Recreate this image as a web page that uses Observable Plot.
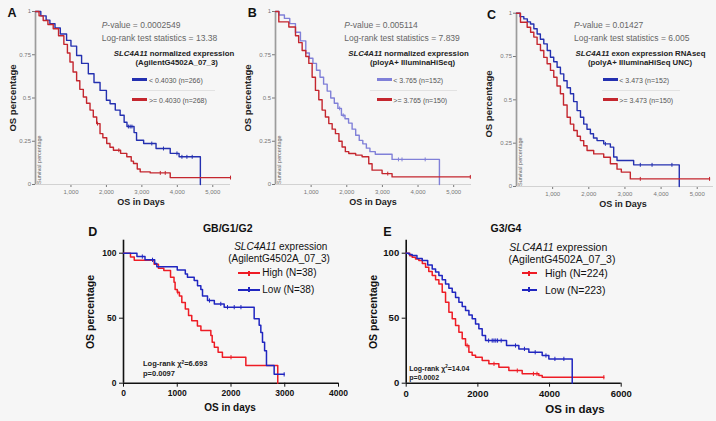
<!DOCTYPE html>
<html><head><meta charset="utf-8">
<script src="https://cdn.jsdelivr.net/npm/d3@7"></script>
<script src="https://cdn.jsdelivr.net/npm/@observablehq/plot@0.6"></script>
<style>
body{margin:0;background:#f6f6f6;}
#fig{position:relative;width:716px;height:421px;background:#f6f6f6;font-family:"Liberation Sans",Arial,sans-serif;overflow:hidden;}
#fig svg{position:absolute;left:0;top:0;}
.t{position:absolute;white-space:nowrap;line-height:1;}
.t sup{font-size:0.65em;line-height:0;vertical-align:0.55em;}
.sw{position:absolute;}
</style></head><body><div id="fig"></div>
<script>
// ---------------- DATA ----------------
const xTicksTop = [1000, 2000, 3000, 4000, 5000];
const yTicksTop = [0, 0.25, 0.5, 0.75, 1];
const xTicksD = [0, 1000, 2000, 3000, 4000];
const xTicksE = [0, 2000, 4000, 6000];
const yTicksBottom = [0, 50, 100];

// Panel A (AgilentG4502A_07_3)
const aLowDays  = [0,150,300,406,550,700,877,1000,1160,1300,1490,1650,1821,2000,2104,2250,2387,2500,2580,2780,2850,3050,3400,3800,4050,4650];
const aLowSurv  = [1,0.975,0.95,0.929,0.905,0.87,0.833,0.8,0.746,0.70,0.64,0.59,0.544,0.487,0.467,0.43,0.40,0.36,0.335,0.30,0.256,0.237,0.208,0.18,0.16,0];
const aLowCens  = [2620,2670,2720,3280,3610,3990,4130,4270,4420];
const aHighDays = [0,100,217,350,500,650,800,900,972,1060,1160,1250,1349,1440,1538,1630,1726,1820,1900,2009,2100,2198,2400,2575,2700,2764,2870,2953,3236,3800,5500];
const aHighSurv = [1,0.975,0.948,0.925,0.90,0.86,0.81,0.76,0.708,0.65,0.60,0.55,0.506,0.47,0.43,0.39,0.352,0.294,0.27,0.237,0.215,0.198,0.18,0.16,0.135,0.121,0.09,0.073,0.067,0.04,0.04];
const aHighCens = [1750,2350,3520,3660,5500];

// Panel B (polyA+ IlluminaHiSeq)
const bLowDays  = [0,100,250,400,560,700,850,950,1050,1150,1250,1350,1450,1550,1650,1750,1850,1950,2050,2150,2250,2350,2450,2550,2650,2800,3271,4600];
const bLowSurv  = [1,0.98,0.96,0.93,0.88,0.83,0.76,0.73,0.70,0.66,0.62,0.58,0.54,0.50,0.47,0.44,0.40,0.38,0.355,0.32,0.285,0.255,0.235,0.21,0.19,0.175,0.145,0];
const bLowCens  = [1800,1900,3450,3550,4200];
const bHighDays = [0,93,374,561,650,748,850,935,1028,1121,1215,1308,1400,1495,1590,1682,1780,1869,1960,2056,2250,2430,2617,2710,2991,3271,5467];
const bHighSurv = [1,0.94,0.91,0.86,0.82,0.775,0.74,0.70,0.62,0.544,0.49,0.43,0.39,0.352,0.32,0.294,0.25,0.217,0.19,0.179,0.17,0.16,0.12,0.083,0.063,0.044,0.044];
const bHighCens = [3150,5467];

// Panel C (exon expression RNAseq)
const cLowDays  = [0,100,203,300,387,480,571,660,755,850,939,1030,1123,1215,1308,1400,1492,1580,1676,1770,1860,1950,2044,2130,2228,2413,2597,2689,2781,3241,4503];
const cLowSurv  = [1,0.98,0.967,0.95,0.938,0.91,0.88,0.85,0.823,0.785,0.746,0.72,0.688,0.65,0.61,0.57,0.535,0.49,0.438,0.40,0.36,0.33,0.304,0.28,0.265,0.246,0.227,0.17,0.15,0.125,0];
const cLowCens  = [2460,3425,3750,4300];
const cHighDays = [0,110,295,390,479,570,663,755,847,940,1031,1120,1215,1300,1400,1490,1584,1680,1768,1860,1952,2136,2413,2597,2781,2900,3149,5341];
const cHighSurv = [1,0.948,0.919,0.89,0.862,0.82,0.785,0.745,0.708,0.67,0.63,0.58,0.535,0.47,0.40,0.36,0.323,0.29,0.265,0.235,0.208,0.188,0.169,0.131,0.10,0.083,0.044,0.044];
const cHighCens = [3425,5341];

// Panel D (GB/G1/G2), percent
const dHighDays = [0,130,200,570,650,750,875,940,960,1000,1040,1085,1150,1210,1270,1375,1440,1625,1650,1690,1760,1840,2276,2870];
const dHighSurv = [100,97,94.5,91.5,88.5,86.7,81.5,77.7,72,70,67,62,57,52,48,44,40.5,36.7,31.5,27.7,23.8,20,13.6,0];
const dHighCens = [1010,2000];
const dLowDays  = [0,250,400,580,620,1000,1150,1190,1315,1377,1439,1470,1563,1690,1873,2431,2524,2555,2586,2625,2660,2803,2989];
const dLowSurv  = [100,97.4,94.9,92,89.5,87,84,81.5,79,75,72,67,63.6,61,58.5,49.5,44.5,39,31.5,25,13.6,6.8,6.8];
const dLowCens  = [350,540,1600,1810,1935,2060,2185,2989];

// Panel E (G3/G4), percent
const eHighDays = [0,100,167,260,353,450,540,630,726,820,912,1005,1098,1191,1284,1377,1470,1563,1656,1749,1840,1935,2121,2307,2586,2865,3237,3702,3795,5516];
const eHighSurv = [100,98,96.9,95.5,94.4,92,89.2,86,82.8,79.5,76.4,70,62.3,54.6,49.5,44.4,39.2,34.1,29,23.8,21.5,20,17.4,14.9,12.3,9.7,7.2,5.9,4.6,4.6];
const eHighCens = [1700,2450,3100,3550,3650,5516];
const eLowDays  = [0,80,167,300,447,600,726,820,912,1005,1098,1191,1284,1377,1470,1563,1656,1750,1842,1935,2028,2121,2214,2800,3144,3423,3795,3981,4633];
const eLowSurv  = [100,99,98.2,96,94.4,91,87.9,85.5,82.8,79.5,76.4,73,70,66,62.3,59,55.9,52.5,49.5,45.5,41.8,36.7,32.8,29,26.4,23.8,21.3,18.7,0];
const eLowCens  = [2300,2400,2450,2500,2550,2650,3050,3300,3600,3900,4150,4400];

// ---------------- HELPERS ----------------
const fig = document.getElementById("fig");
const FONT = "'Liberation Sans', Arial, sans-serif";
const rows = (T, S) => T.map((t, i) => ({t, s: S[i]}));
function survAt(T, S, t) { let s = S[0]; for (let i = 0; i < T.length; i++) if (T[i] <= t) s = S[i]; return s; }
const censRows = (T, S, C) => C.map(t => ({t, s: survAt(T, S, t)}));
const vbar = {draw(ctx, size) { const r = Math.sqrt(size) / 2; ctx.moveTo(0, -r); ctx.lineTo(0, r); }};
const comma = d3.format(",");

function curveMarks(series, width, tickR) {
  const m = [];
  for (const s of series) {
    m.push(Plot.line(rows(s.T, s.S), {x: "t", y: "s", curve: "step-after", stroke: s.color, strokeWidth: width}));
    m.push(Plot.dot(censRows(s.T, s.S, s.C), {x: "t", y: "s", symbol: vbar, r: tickR, stroke: s.color, strokeWidth: 1, fill: "none"}));
  }
  return m;
}

function topPanel({L, R, T, B, xmax, series}) {
  return Plot.plot({
    width: 716, height: 421,
    marginLeft: L, marginRight: 716 - R, marginTop: T, marginBottom: 421 - B,
    style: {background: "transparent", fontFamily: FONT, fontSize: "6px", color: "#777", overflow: "visible"},
    x: {domain: [0, xmax], ticks: xTicksTop, tickFormat: d => comma(d), tickSize: 3, tickPadding: 2, label: null},
    y: {domain: [0, 1], ticks: yTicksTop, tickFormat: d => String(d), tickSize: 3, tickPadding: 1.5, label: null},
    marks: [
      Plot.ruleY([0], {stroke: "#d2d2d2", strokeWidth: 1}),
      Plot.ruleX([0], {stroke: "#9c9c9c", strokeWidth: 1.7}),
      ...curveMarks(series, 1.4, 2.2)
    ]
  });
}

function bottomPanel({L, R, xmax, xticks, xfs, series}) {
  return Plot.plot({
    width: 716, height: 421,
    marginLeft: L, marginRight: 716 - R, marginTop: 239.7, marginBottom: 421 - 382.7,
    style: {background: "transparent", fontFamily: FONT, fontSize: xfs + "px", fontWeight: "bold", color: "#111", overflow: "visible"},
    x: {domain: [0, xmax], ticks: xticks, tickFormat: d => String(d), tickSize: 4, tickPadding: 3, label: null},
    y: {domain: [0, 110], ticks: yTicksBottom, tickFormat: d => String(d), tickSize: 4, tickPadding: 3, label: null},
    marks: [
      Plot.ruleY([0], {stroke: "#111", strokeWidth: 1.6}),
      Plot.ruleX([0], {stroke: "#111", strokeWidth: 1.6}),
      ...curveMarks(series, 1.5, 2.4)
    ]
  });
}

function txt(html, x, y, o = {}) {
  const d = document.createElement("div");
  d.className = "t";
  d.innerHTML = html;
  d.style.left = x + "px";
  d.style.top = y + "px";
  d.style.fontSize = (o.size || 8) + "px";
  d.style.fontWeight = o.weight || "normal";
  d.style.color = o.color || "#222";
  const a = o.anchor || "start";
  const tx = a === "middle" ? "-50%" : a === "end" ? "-100%" : "0";
  if (o.rotate === "center") d.style.transform = "translate(-50%,-50%) rotate(-90deg)";
  else if (o.rotate === "base") { d.style.transformOrigin = "0 0"; d.style.transform = "rotate(-90deg)"; }
  else d.style.transform = `translate(${tx},-50%)`;
  fig.appendChild(d);
}
function box(x, y, w, h, color) {
  const d = document.createElement("div");
  d.className = "sw";
  d.style.cssText = `left:${x}px;top:${y}px;width:${w}px;height:${h}px;background-color:${color};`;
  fig.appendChild(d);
}
function swatch(x1, x2, y, h, color, tick) {
  box(x1, y - h / 2, x2 - x1, h, color);
  if (tick) box((x1 + x2) / 2 - 0.75, y - 2.5, 1.5, 5, color);
}

// ---------------- COLORS ----------------
const topBlue = "#2430b0", topRed = "#c4262e", bBlue = "#8080d8";
const botRed = "#ee1c25", botBlue = "#2026c0";

// ---------------- PLOTS ----------------
fig.appendChild(topPanel({L: 35, R: 230, T: 11, B: 184, xmax: 5500, series: [
  {T: aLowDays, S: aLowSurv, C: aLowCens, color: topBlue},
  {T: aHighDays, S: aHighSurv, C: aHighCens, color: topRed}]}));
fig.appendChild(topPanel({L: 275, R: 471, T: 11, B: 184, xmax: 5500, series: [
  {T: bLowDays, S: bLowSurv, C: bLowCens, color: bBlue},
  {T: bHighDays, S: bHighSurv, C: bHighCens, color: topRed}]}));
fig.appendChild(topPanel({L: 516, R: 713, T: 12.7, B: 186, xmax: 5450, series: [
  {T: cLowDays, S: cLowSurv, C: cLowCens, color: topBlue},
  {T: cHighDays, S: cHighSurv, C: cHighCens, color: topRed}]}));
fig.appendChild(bottomPanel({L: 123, R: 338, xmax: 4000, xticks: xTicksD, xfs: 8.5, series: [
  {T: dHighDays, S: dHighSurv, C: dHighCens, color: botRed},
  {T: dLowDays, S: dLowSurv, C: dLowCens, color: botBlue}]}));
fig.appendChild(bottomPanel({L: 405.7, R: 620.7, xmax: 6000, xticks: xTicksE, xfs: 9.5, series: [
  {T: eHighDays, S: eHighSurv, C: eHighCens, color: botRed},
  {T: eLowDays, S: eLowSurv, C: eLowCens, color: botBlue}]}));

// ---------------- TEXT: top row ----------------
const tops = [
  {letter: "A", lx: 12, ly: 13, ylx: 13, yly: 98, xlx: 141, xly: 202, surv: 38,
   px: 101.7, p: "0.0002549", lr: "13.38",
   h1: "<i>SLC4A11</i> normalized expression", h2: "(AgilentG4502A_07_3)", hc: 174, h2c: 176.7,
   sx1: 131.7, sx2: 146.7, tx: 149, sepx: [130, 215],
   lo: "&lt; 0.4030 (n=266)", hi: "&gt;= 0.4030 (n=268)", blue: topBlue},
  {letter: "B", lx: 252.3, ly: 13, ylx: 248.3, yly: 98, xlx: 373, xly: 202, surv: 278,
   px: 344.3, p: "0.005114", lr: "7.839",
   h1: "<i>SLC4A11</i> normalized expression", h2: "(ployA+ IlluminaHiSeq)", hc: 408.5, h2c: 412.5,
   sx1: 376.7, sx2: 391.7, tx: 393.3, sepx: [370, 457],
   lo: "&lt; 3.765 (n=152)", hi: "&gt;= 3.765 (n=150)", blue: bBlue},
  {letter: "C", lx: 491.5, ly: 14.5, ylx: 489.3, yly: 104, xlx: 623, xly: 204.3, surv: 519,
   px: 574, p: "0.01427", lr: "6.005",
   h1: "<i>SLC4A11</i> exon expression RNAseq", h2: "(polyA+ IlluminaHiSeq UNC)", hc: 640.5, h2c: 640,
   sx1: 603.3, sx2: 618, tx: 619.3, sepx: [602, 680],
   lo: "&lt; 3.473 (n=152)", hi: "&gt;= 3.473 (n=150)", blue: topBlue}
];
for (const p of tops) {
  txt(p.letter, p.lx, p.ly, {size: 12.5, weight: "bold", color: "#111", anchor: "middle"});
  txt("OS percentage", p.ylx, p.yly, {size: 9.5, weight: "bold", color: "#222", rotate: "center"});
  txt("OS in Days", p.xlx, p.xly, {size: 9, weight: "bold", color: "#222", anchor: "middle"});
  txt("Survival percentage", p.surv - 1, p.letter === "C" ? 186 : 184, {size: 5.5, color: "#666", rotate: "base"});
  txt(`<i>P</i>-value = ${p.p}`, p.px, 25, {size: 8.5, color: "#666"});
  txt(`Log-rank test statistics = ${p.lr}`, p.px, 37.7, {size: 8.5, color: "#666"});
  txt(p.h1, p.hc, 54.3, {size: 7.8, weight: "bold", color: "#222", anchor: "middle"});
  txt(p.h2, p.h2c, 62.7, {size: 7.8, weight: "bold", color: "#222", anchor: "middle"});
  swatch(p.sx1, p.sx2, 79.5, 3, p.blue);
  swatch(p.sx1, p.sx2, 99.5, 3, topRed);
  box(p.sepx[0], 89.5, p.sepx[1] - p.sepx[0], 1, "#e2e2e2");
  txt(p.lo, p.tx, 79.5, {size: 7, color: "#555"});
  txt(p.hi, p.tx, 99.5, {size: 7, color: "#555"});
}

// ---------------- TEXT: bottom row ----------------
const bots = [
  {letter: "D", lx: 92.7, title: "GB/G1/G2", tx: 227.7, ylx: 90, xlx: 230, xly: 408, xfs: 10,
   l1c: 280.8, l2c: 279, sx1: 238.3, sx2: 260, ltx: 262.3, lfs: 10,
   hi: "High (N=38)", lo: "Low (N=38)", stx: 143, st1: 364, st2: 373.5, chi: "6.693", pv: "0.0097", sfs: 7.5},
  {letter: "E", lx: 387.3, title: "G3/G4", tx: 506, ylx: 373.3, xlx: 575, xly: 410, xfs: 11.5,
   l1c: 558.3, l2c: 562, sx1: 521.7, sx2: 536.7, ltx: 545, lfs: 10.5,
   hi: "High (N=224)", lo: "Low (N=223)", stx: 409.3, st1: 368.3, st2: 376.7, chi: "14.04", pv: "0.0002", sfs: 7}
];
for (const p of bots) {
  txt(p.letter, p.lx, 232, {size: 12.5, weight: "bold", color: "#111", anchor: "middle"});
  txt(p.title, p.tx, 228, {size: 10.5, weight: "bold", color: "#111", anchor: "middle"});
  txt("OS percentage", p.ylx, 311.7, {size: 10.5, weight: "bold", color: "#111", rotate: "center"});
  txt("OS in days", p.xlx, p.xly, {size: p.xfs, weight: "bold", color: "#111", anchor: "middle"});
  txt("<i>SLC4A11</i> expression", p.l1c, 246.5, {size: p.lfs, color: "#111", anchor: "middle"});
  txt("(AgilentG4502A_07_3)", p.l2c, 258.5, {size: p.lfs, color: "#111", anchor: "middle"});
  swatch(p.sx1, p.sx2, 273, 2, botRed, true);
  swatch(p.sx1, p.sx2, 289.5, 2, botBlue, true);
  txt(p.hi, p.ltx, 273, {size: p.lfs, color: "#111"});
  txt(p.lo, p.ltx, 289.5, {size: p.lfs, color: "#111"});
  txt(`Log-rank χ<sup>2</sup>=${p.chi}`, p.stx, p.st1, {size: p.sfs, weight: "bold", color: "#222"});
  txt(`p=${p.pv}`, p.stx, p.st2, {size: p.sfs, weight: "bold", color: "#222"});
}
</script></body></html>
